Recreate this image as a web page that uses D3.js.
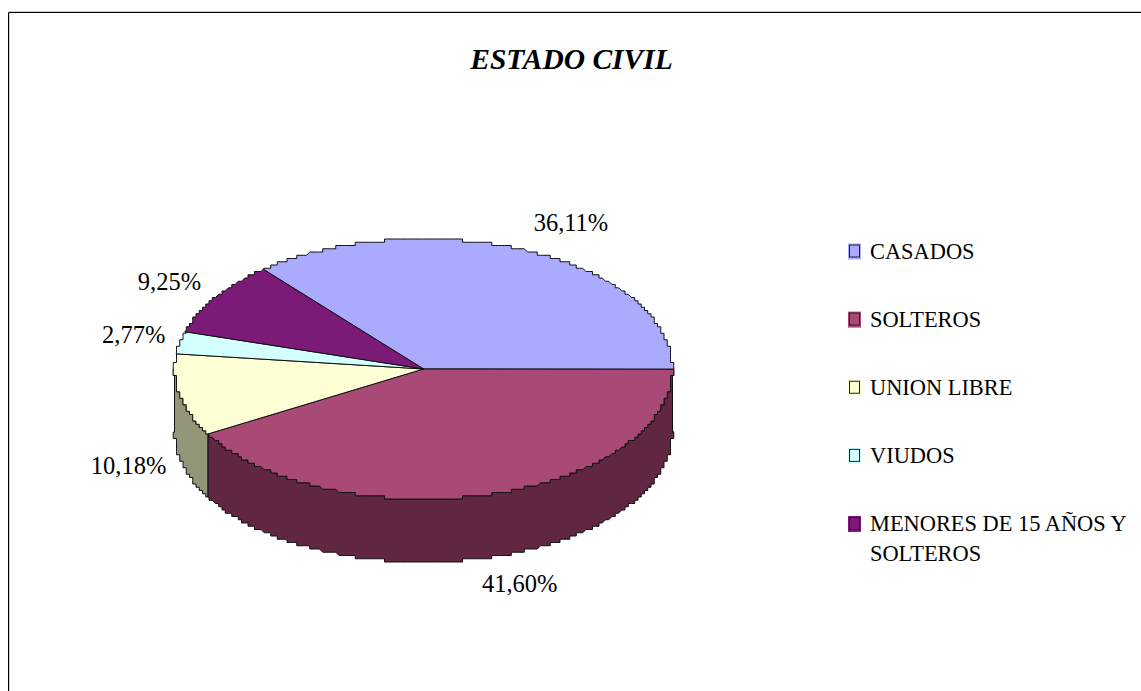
<!DOCTYPE html>
<html>
<head>
<meta charset="utf-8">
<script src="https://cdnjs.cloudflare.com/ajax/libs/d3/7.8.5/d3.min.js"></script>
<style>
html,body{margin:0;padding:0;background:#fff;overflow:hidden}
svg{display:block}
text{font-family:"Liberation Serif",serif;fill:#000}
</style>
</head>
<body>
<svg id="c" width="1141" height="691"></svg>
<script>
const title = "ESTADO CIVIL";
const categories = ["CASADOS","SOLTEROS","UNION LIBRE","VIUDOS","MENORES DE 15 AÑOS Y SOLTEROS"];
const values = [36.11,41.60,10.18,2.77,9.25];
const valueLabels = ["36,11%","41,60%","10,18%","2,77%","9,25%"];
const topColors = ["#aaaaff","#a94a76","#ffffd6","#d4ffff","#7c1a78"];
const sideColors = ["#5f5f8f","#602642","#95957a","#779090","#450e43"];

const W=1141,H=691;
const svg=d3.select("#c");
const cx=423.5,cy=369,rx=249,ry=130,depth=63,grid=3.25;

// frame
svg.append("path").attr("d",`M9.5,691V11.5H1141`).attr("fill","none").attr("stroke","#ccc").attr("stroke-width",1);
svg.append("path").attr("d",`M8.5,691V12.5H1141`).attr("fill","none").attr("stroke","#000").attr("stroke-width",1);

svg.append("text").attr("x",571.5).attr("y",69).attr("text-anchor","middle")
  .attr("font-size",29.5).attr("font-weight","bold").attr("font-style","italic").text(title);

const pie=d3.pie().sort(null).startAngle(-40*Math.PI/180).endAngle(320*Math.PI/180);
const arcs=pie(values);

const q=v=>Math.round(v/grid)*grid;
const px=a=>cx+rx*Math.sin(a), py=a=>cy-ry*Math.cos(a);
const samples=(a0,a1)=>{
  const n=Math.max(2,Math.ceil((a1-a0)/0.004));
  return d3.range(0,n+1).map(i=>a0+(a1-a0)*i/n);
};
// stepped rim, as the low-resolution original renders it
const rim=(a0,a1)=>{
  const pts=[];
  samples(a0,a1).forEach((a,i,all)=>{
    const ends=i===0||i===all.length-1;
    const p=ends?[px(a),py(a)]:[q(px(a)-cx)+cx,q(py(a)-cy)+cy];
    const l=pts[pts.length-1];
    if(!l||l[0]!==p[0]||l[1]!==p[1])pts.push(p);
  });
  return pts;
};
const line=d3.line();

// visible side faces (front half: angle between 90deg and 270deg)
const lo=Math.PI/2,hi=3*Math.PI/2;
const sideG=svg.append("g");
arcs.forEach((d,i)=>{
  const a0=Math.max(d.startAngle,lo),a1=Math.min(d.endAngle,hi);
  if(a1<=a0)return;
  const r=rim(a0,a1);
  const low=r.slice().reverse().map(p=>[p[0],p[1]+depth]);
  sideG.append("path").attr("d",line(r.concat(low))+"Z")
    .attr("fill",sideColors[i]).attr("stroke","#111").attr("stroke-width",1).attr("stroke-linejoin","round");
});
// top faces
const topG=svg.append("g");
arcs.forEach((d,i)=>{
  const pts=[[cx,cy]].concat(rim(d.startAngle,d.endAngle));
  topG.append("path").attr("d",line(pts)+"Z")
    .attr("fill",topColors[i]).attr("stroke","#111").attr("stroke-width",1).attr("stroke-linejoin","round");
});

// data labels: placed relative to each slice's rim midpoint
const labelOffset=[[42,-20],[32,97],[-51,79],[-46,0],[-46,-8]];
arcs.forEach((d,i)=>{
  const m=(d.startAngle+d.endAngle)/2;
  svg.append("text").attr("x",px(m)+labelOffset[i][0]).attr("y",py(m)+labelOffset[i][1])
    .attr("text-anchor","middle").attr("font-size",24.5).text(valueLabels[i]);
});

// legend
const legendY=d3.scalePoint().domain(categories).range([258.5,531]);
const legendLines=[["CASADOS"],["SOLTEROS"],["UNION LIBRE"],["VIUDOS"],["MENORES DE 15 AÑOS Y","SOLTEROS"]];
categories.forEach((c,i)=>{
  const y=legendY(c);
  const g=svg.append("g");
  g.append("rect").attr("x",848).attr("y",y-15).attr("width",13).attr("height",16).attr("fill",topColors[i]);
  g.append("rect").attr("x",849.5).attr("y",y-13.5).attr("width",10).attr("height",12).attr("fill",topColors[i]).attr("stroke","#222").attr("stroke-width",1);
  legendLines[i].forEach((t,j)=>{
    g.append("text").attr("x",870).attr("y",y+j*29.5).attr("font-size",22.4).text(t);
  });
});
</script>
</body>
</html>
